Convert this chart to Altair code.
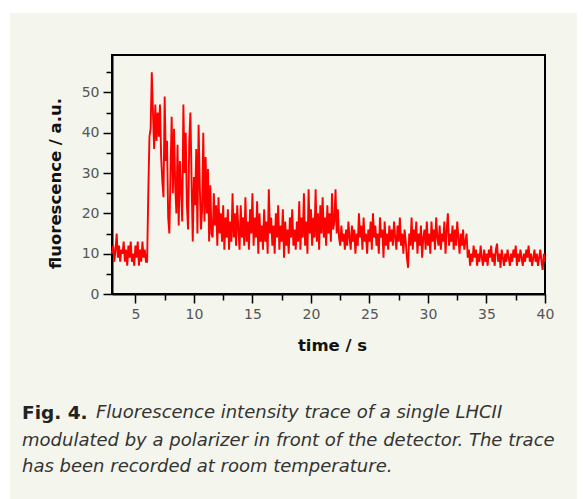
import altair as alt
import pandas as pd

# ---- data (0.1 s sampling starting at 3.0 s) ----
t_start = 3.0
t_step = 0.1
fluor = [
    10, 12, 8, 11, 15, 9, 12, 8, 11, 10,        # 3.0-3.9
    13, 8, 11, 7, 12, 9, 13, 8, 10, 7,          # 4.0-4.9
    12, 9, 13, 7, 11, 8, 13, 9, 11, 8,          # 5.0-5.9
    8, 25, 39, 41, 55, 45, 36, 47, 38, 45,      # 6.0-6.9
    39, 47, 34, 28, 24, 49, 33, 38, 19, 15,     # 7.0-7.9
    30, 44, 25, 41, 27, 20, 37, 17, 33, 26,     # 8.0-8.9
    18, 47, 30, 40, 22, 16, 38, 45, 28, 13,     # 9.0-9.9
    29, 22, 36, 15, 42, 27, 16, 21, 40, 18,     # 10.0-10.9
    34, 20, 31, 13, 27, 15, 14, 25, 17, 22,     # 11.0-11.9
    12, 24, 15, 20, 13, 22, 11, 19, 14, 21,     # 12.0-12.9
    11, 18, 13, 25, 14, 20, 12, 22, 16, 11,     # 13.0-13.9
    22, 14, 19, 12, 24, 13, 18, 11, 21, 15,     # 14.0-14.9
    25, 12, 19, 14, 23, 10, 20, 13, 17, 11,     # 15.0-15.9
    21, 13, 18, 10, 26, 15, 19, 12, 17, 10,     # 16.0-16.9
    20, 14, 22, 11, 17, 13, 21, 9, 18, 12,      # 17.0-17.9
    16, 10, 19, 14, 21, 12, 16, 11, 18, 13,     # 18.0-18.9
    23, 11, 19, 14, 25, 12, 18, 10, 26, 15,     # 19.0-19.9
    21, 12, 19, 14, 26, 13, 20, 11, 22, 15,     # 20.0-20.9
    24, 14, 19, 12, 22, 15, 20, 13, 25, 16,     # 21.0-21.9
    18, 26, 15, 21, 14, 12, 17, 13, 15, 11,     # 22.0-22.9
    16, 12, 18, 14, 11, 17, 13, 16, 10, 15,     # 23.0-23.9
    12, 20, 14, 17, 11, 19, 13, 15, 10, 16,     # 24.0-24.9
    13, 18, 11, 20, 14, 17, 12, 15, 10, 19,     # 25.0-25.9
    14, 16, 9, 18, 12, 15, 11, 17, 13, 16,      # 26.0-26.9
    12, 18, 14, 11, 17, 13, 19, 12, 15, 10,     # 27.0-27.9
    16, 13, 9, 6.5, 15, 12, 19, 11, 16, 13,     # 28.0-28.9
    18, 10, 15, 12, 17, 9, 14, 16, 11, 18,      # 29.0-29.9
    12, 15, 10, 18, 13, 16, 11, 19, 14, 12,     # 30.0-30.9
    17, 11, 15, 13, 18, 10, 16, 20, 12, 15,     # 31.0-31.9
    13, 17, 11, 16, 12, 18, 14, 10, 15, 12,     # 32.0-32.9
    16, 11, 13, 15, 9, 11, 7, 10, 8, 12,        # 33.0-33.9
    9, 11, 7, 10, 8, 12, 9, 7, 11, 8,           # 34.0-34.9
    10, 7, 11, 9, 12, 8, 10, 7, 11, 12.5,       # 35.0-35.9
    8, 10, 6.5, 11, 9, 7, 10, 8, 11, 9,         # 36.0-36.9
    7, 10, 8, 11, 9, 12, 7, 10, 8, 11,          # 37.0-37.9
    9, 7, 10, 8, 11, 9, 12, 8, 10, 7,           # 38.0-38.9
    9, 11, 8, 10, 7, 9, 11, 8, 6, 10,           # 39.0-39.9
    8,                                          # 40.0
]
time_s = [round(t_start + t_step * i, 2) for i in range(len(fluor))]

x_ticks = [5, 7.5, 10, 12.5, 15, 17.5, 20, 22.5, 25, 27.5, 30, 32.5, 35, 37.5, 40]
y_ticks = [0, 5, 10, 15, 20, 25, 30, 35, 40, 45, 50, 55]

caption_bold = "Fig. 4."
caption_lines = [
    "Fluorescence intensity trace of a single LHCII",
    "modulated by a polarizer in front of the detector. The trace",
    "has been recorded at room temperature.",
]

df = pd.DataFrame({"time": time_s, "fluor": fluor})
one = pd.DataFrame({"k": [0]})

PLOT_W, PLOT_H = 433, 239
PAD_L, PAD_T = 112, 55
W, H = 583, 499

# white margins around the speckled page
white_top = alt.Chart(one).mark_rect(color="#ffffff").encode(
    x=alt.value(-PAD_L), x2=alt.value(W - PAD_L),
    y=alt.value(-PAD_T), y2=alt.value(13 - PAD_T),
)
white_left = alt.Chart(one).mark_rect(color="#ffffff").encode(
    x=alt.value(-PAD_L), x2=alt.value(10 - PAD_L),
    y=alt.value(-PAD_T), y2=alt.value(H - PAD_T),
)
white_right = alt.Chart(one).mark_rect(color="#ffffff").encode(
    x=alt.value(577 - PAD_L), x2=alt.value(W - PAD_L),
    y=alt.value(-PAD_T), y2=alt.value(H - PAD_T),
)

line = alt.Chart(df).mark_line(color="#ff0000", strokeWidth=1.9).encode(
    x=alt.X(
        "time:Q",
        scale=alt.Scale(domain=[3, 40], nice=False, zero=False),
        axis=alt.Axis(
            values=x_ticks,
            labelExpr="datum.value % 5 == 0 ? datum.label : ''",
            tickSize=alt.condition("datum.value % 5 == 0", alt.value(9), alt.value(6)),
            title="time / s",
            titleX=220, titleY=51, titleAlign="center", titleBaseline="middle",
        ),
    ),
    y=alt.Y(
        "fluor:Q",
        scale=alt.Scale(domain=[0, 59.3], nice=False),
        axis=alt.Axis(
            values=y_ticks,
            labelExpr="datum.value % 10 == 0 ? datum.label : ''",
            tickSize=alt.condition("datum.value % 10 == 0", alt.value(9), alt.value(6)),
            title="fluorescence / a.u.",
            titleX=-57, titleY=128, titleAngle=270,
            titleAlign="center", titleBaseline="middle",
        ),
    ),
)

cap_font = "DejaVu Sans"
cap0 = alt.Chart(one).mark_text(
    text=caption_bold, font=cap_font, fontWeight="bold", fontSize=18.5,
    align="left", baseline="middle", color="#222222",
).encode(x=alt.value(22 - PAD_L), y=alt.value(413 - PAD_T))

cap1 = alt.Chart(one).mark_text(
    text=caption_lines[0], font=cap_font, fontStyle="italic", fontSize=18,
    align="left", baseline="middle", color="#333333",
).encode(x=alt.value(96 - PAD_L), y=alt.value(413 - PAD_T))

cap2 = alt.Chart(one).mark_text(
    text=caption_lines[1], font=cap_font, fontStyle="italic", fontSize=18,
    align="left", baseline="middle", color="#333333",
).encode(x=alt.value(22 - PAD_L), y=alt.value(441 - PAD_T))

cap3 = alt.Chart(one).mark_text(
    text=caption_lines[2], font=cap_font, fontStyle="italic", fontSize=18,
    align="left", baseline="middle", color="#333333",
).encode(x=alt.value(22 - PAD_L), y=alt.value(467 - PAD_T))

chart = alt.layer(white_top, white_left, white_right, line, cap0, cap1, cap2, cap3).properties(
    width=PLOT_W, height=PLOT_H,
    autosize=alt.AutoSizeParams(type="none"),
    padding={"left": PAD_L, "top": PAD_T, "right": W - PAD_L - PLOT_W, "bottom": H - PAD_T - PLOT_H},
    background="#f4f5ec",
).configure_view(
    stroke="#000000", strokeWidth=2,
).configure_axis(
    grid=False, zindex=1,
    domainColor="#000000", domainWidth=2,
    tickColor="#000000", tickWidth=1.5,
    labelFont="DejaVu Sans", labelFontSize=14, labelColor="#555555",
    labelPadding=4, labelOverlap=False, labelFlush=False,
    titleFont="DejaVu Sans", titleFontSize=16.5, titleFontWeight="bold", titleColor="#111111",
)

chart.save("out.html", embed_options={"renderer": "svg", "actions": False})
